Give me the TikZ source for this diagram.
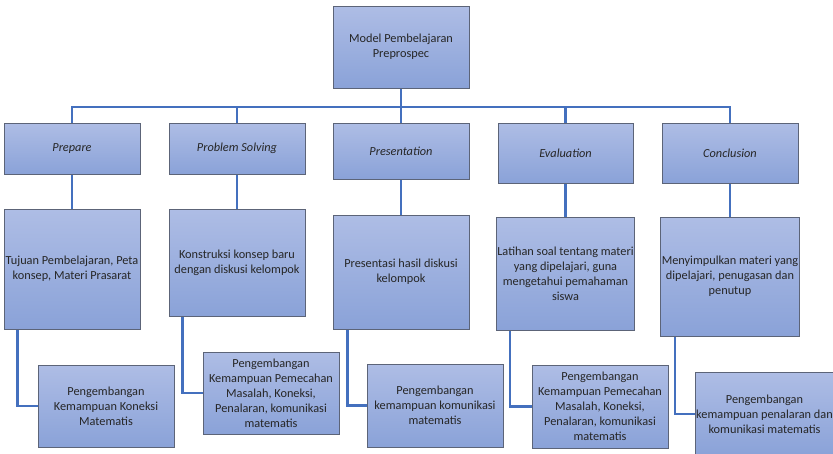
\documentclass[tikz,border=0pt]{standalone}
\usepackage{fontspec}
\setmainfont{Carlito}
\usetikzlibrary{backgrounds}
\definecolor{boxtop}{HTML}{AEBDE5}
\definecolor{boxbot}{HTML}{8AA2D8}
\definecolor{boxline}{HTML}{5C6478}
\definecolor{conncol}{HTML}{4470BE}
\definecolor{txt}{HTML}{262626}
\begin{document}
\begin{tikzpicture}[x=1pt,y=-1pt,
  box/.style={rectangle, draw=boxline, line width=0.9pt, top color=boxtop, bottom color=boxbot,
    align=center, inner sep=1pt, text=txt, font=\fontsize{12.3}{15}\selectfont},
  conn/.style={draw=conncol, line width=2.3pt}]
\useasboundingbox (0,0) rectangle (833,453);
\clip (0,0) rectangle (833,453);
% level 0
\node[box, minimum width=136pt, minimum height=82pt] (top) at (401,47) {Model Pembelajaran\\Preprospec};
% level 1
\node[box, minimum width=136pt, minimum height=51pt] (p1) at (72,148.5) {\itshape Prepare};
\node[box, minimum width=136pt, minimum height=51pt] (s1) at (237,148.5) {\itshape Problem Solving};
\node[box, minimum width=136pt, minimum height=56pt] (r1) at (401,151) {\itshape Presentation};
\node[box, minimum width=135pt, minimum height=60pt] (e1) at (565.5,153) {\itshape Evaluation};
\node[box, minimum width=136pt, minimum height=60pt] (c1) at (730,153) {\itshape Conclusion};
% level 2
\node[box, minimum width=136pt, minimum height=120pt] (p2) at (72,269) {Tujuan Pembelajaran, Peta\\konsep, Materi Prasarat};
\node[box, minimum width=136pt, minimum height=107pt] (s2) at (237,262.5) {Konstruksi konsep baru\\dengan diskusi kelompok};
\node[box, minimum width=136pt, minimum height=114pt] (r2) at (401,272) {Presentasi hasil diskusi\\kelompok};
\node[box, minimum width=135pt, minimum height=113pt] (e2) at (565.5,273.5) {Latihan soal tentang materi\\yang dipelajari, guna\\mengetahui pemahaman\\siswa};
\node[box, minimum width=136pt, minimum height=119pt] (c2) at (730,276.5) {Menyimpulkan materi yang\\dipelajari, penugasan dan\\penutup};
% level 3
\node[box, minimum width=136pt, minimum height=82pt] (p3) at (106,406) {Pengembangan\\Kemampuan Koneksi\\Matematis};
\node[box, minimum width=136pt, minimum height=82pt] (s3) at (271,393) {Pengembangan\\Kemampuan Pemecahan\\Masalah, Koneksi,\\Penalaran, komunikasi\\matematis};
\node[box, minimum width=136pt, minimum height=83pt] (r3) at (435,405.5) {Pengembangan\\kemampuan komunikasi\\matematis};
\node[box, minimum width=136pt, minimum height=83pt] (e3) at (600,406.5) {Pengembangan\\Kemampuan Pemecahan\\Masalah, Koneksi,\\Penalaran, komunikasi\\matematis};
\node[box, minimum width=137pt, minimum height=84pt] (c3) at (764.5,414) {Pengembangan\\kemampuan penalaran dan\\komunikasi matematis};
\begin{scope}[on background layer]
% bus
\coordinate (bus) at (0,107);
\draw[conn] (top.south) -- (top.south |- bus);
\draw[conn] (p1.north) -- (p1.north |- bus) -- (c1.north |- bus) -- (c1.north);
\draw[conn] (s1.north) -- (s1.north |- bus);
\draw[conn] (r1.north) -- (r1.north |- bus);
\draw[conn] (e1.north) -- (e1.north |- bus);
% level 1 to level 2
\draw[conn] (p1.south) -- (p2.north);
\draw[conn] (s1.south) -- (s2.north);
\draw[conn] (r1.south) -- (r2.north);
\draw[conn] (e1.south) -- (e2.north);
\draw[conn] (c1.south) -- (c2.north);
% level 2 to level 3
\draw[conn] ([xshift=14pt]p2.south west) |- (p3.west);
\draw[conn] ([xshift=14pt]s2.south west) |- (s3.west);
\draw[conn] ([xshift=15pt]r2.south west) |- (r3.west);
\draw[conn] ([xshift=14pt]e2.south west) |- (e3.west);
\draw[conn] ([xshift=15pt]c2.south west) |- (c3.west);
\end{scope}
\end{tikzpicture}
\end{document}
